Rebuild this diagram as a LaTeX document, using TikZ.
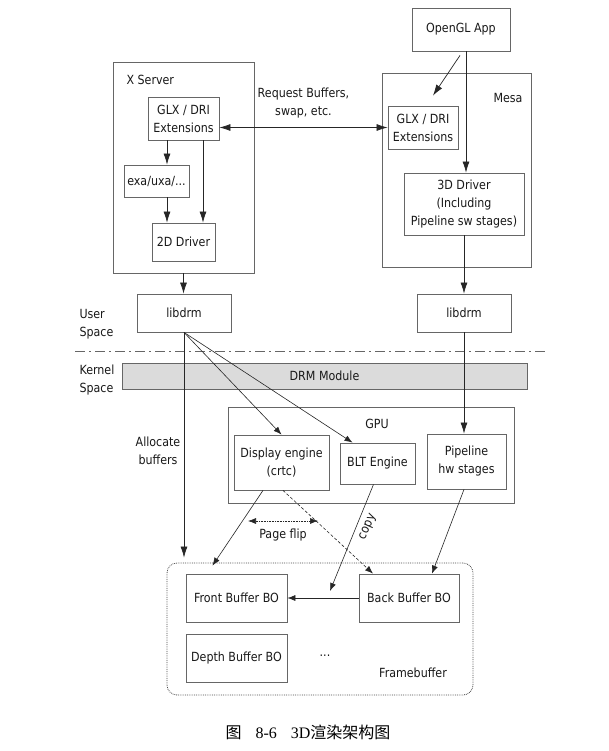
\documentclass[tikz,border=0pt]{standalone}
\usepackage{fontspec}
\setmainfont{DejaVu Sans}[FakeStretch=0.88]
\newfontfamily\cjk{Noto Sans CJK SC}
\newfontfamily\capfont{Liberation Serif}
\usetikzlibrary{arrows.meta, positioning, calc}

\begin{document}
\begin{tikzpicture}[x=1pt, y=-1pt,
  font=\fontsize{12.6}{18}\selectfont,
  box/.style={draw=black!60, line width=0.8pt, inner sep=0pt, align=center, text=black!90},
  group/.style={draw=black!60, line width=0.8pt, inner sep=0pt},
  arr/.style={draw=black!85, line width=0.7pt, -{Latex[length=11pt,width=7pt]}},
  thinarr/.style={draw=black!85, line width=0.6pt, -{Latex[length=8pt,width=6pt]}},
  lbl/.style={text=black!90, align=center}]
  \fill[white] (0,0) rectangle (609,751);
  \useasboundingbox (0,0) rectangle (609,751);

  % user space: X server and Mesa
  \node[group, minimum width=141pt, minimum height=211pt] (xserver) at (183.5,167.5) {};
  \node[group, minimum width=149pt, minimum height=194pt] (mesa) at (456.5,170) {};
  \node[lbl, anchor=west] (xserverlbl) at (123,80) {X Server};
  \node[lbl] (mesalbl) at (508,98) {Mesa};

  \node[box, minimum width=98pt, minimum height=43pt] (app) at (461,29.5) {OpenGL App};
  \node[box, minimum width=71pt, minimum height=43pt] (xglx) at (183.5,118.5) {GLX / DRI\\Extensions};
  \node[box, minimum width=65pt, minimum height=32pt] (exa) at (156.5,181) {exa/uxa/...};
  \node[box, minimum width=63pt, minimum height=38pt] (drv2d) at (183.5,242) {2D Driver};
  \node[box, minimum width=70pt, minimum height=43pt] (mglx) at (423,127.5) {GLX / DRI\\Extensions};
  \node[box, minimum width=120pt, minimum height=62pt] (drv3d) at (464,204) {3D Driver\\(Including\\Pipeline sw stages)};
  \node[box, minimum width=94pt, minimum height=38pt] (libl) at (184,313) {libdrm};
  \node[box, minimum width=94pt, minimum height=38pt] (libr) at (464,313) {libdrm};

  \node[lbl, align=left, anchor=west] (userlbl) at (76,324) {User\\Space};
  \draw[black!60, line width=0.8pt, dash pattern=on 10pt off 4pt on 2pt off 4pt] (75,351) -- (547,351);
  \node[lbl, align=left, anchor=west] (kernellbl) at (76,380) {Kernel\\Space};

  % kernel and GPU
  \node[box, fill=black!14, minimum width=405pt, minimum height=26pt] (drm) at (324.5,376) {DRM Module};
  \node[group, minimum width=286pt, minimum height=96pt] (gpu) at (371,455) {};
  \node[lbl] (gpulbl) at (377,424) {GPU};
  \node[box, minimum width=95pt, minimum height=55pt] (disp) at (281.5,462.5) {Display engine\\(crtc)};
  \node[box, minimum width=75pt, minimum height=41pt] (blt) at (377.5,463.5) {BLT Engine};
  \node[box, minimum width=79pt, minimum height=55pt] (pipe) at (466.5,461.5) {Pipeline\\hw stages};
  \node[lbl] (alloclbl) at (158,451) {Allocate\\buffers};

  % framebuffer
  \node[group, draw=black!70, densely dotted, rounded corners=10pt, minimum width=306pt, minimum height=132pt] (fb) at (320,629) {};
  \node[box, minimum width=101pt, minimum height=48pt] (front) at (236.5,598) {Front Buffer BO};
  \node[box, minimum width=100pt, minimum height=48pt] (back) at (409,598) {Back Buffer BO};
  \node[box, minimum width=101pt, minimum height=48pt] (depth) at (236.5,658) {Depth Buffer BO};
  \node[lbl] (dots) at (325,656) {...};
  \node[lbl] (fblbl) at (413,673) {Framebuffer};

  \coordinate (flipl) at (248,521);
  \coordinate (flipr) at (318,521);
  \coordinate (copyend) at (330,591);

  % connectors
  \draw[arr] ([xshift=-16.5pt]xglx.south) -- ([xshift=-16.5pt]xglx.south |- exa.north);
  \draw[arr] ([xshift=19.5pt]xglx.south) -- ([xshift=19.5pt]xglx.south |- drv2d.north);
  \draw[arr] ([xshift=10.5pt]exa.south) -- ([xshift=10.5pt]exa.south |- drv2d.north);
  \draw[arr, {Latex[length=11pt,width=7pt]}-{Latex[length=11pt,width=7pt]}] (xglx.east |- mglx.west) -- (mglx.west)
    node[lbl, midway, above=6pt] (reqlbl) {Request Buffers,\\swap, etc.};
  \draw[arr] ([xshift=-1pt,yshift=-4pt]app.south) -- ([xshift=10pt,yshift=10pt]mglx.north);
  \draw[arr] ([xshift=5pt]app.south) -- ([xshift=5pt]app.south |- drv3d.north);
  \draw[arr] (xserver.south) -- (xserver.south |- libl.north);
  \draw[arr] (drv3d.south) -- (drv3d.south |- libr.north);
  \draw[arr] (libr.south) -- (libr.south |- pipe.north);
  \draw[arr] (libl.south) -- ([yshift=5pt]fb.north -| libl.south);
  \draw[thinarr] (libl.south) -- (disp.north);
  \draw[thinarr] (libl.south) -- ([xshift=-25pt]blt.north);
  \draw[thinarr] ([xshift=-18.5pt]disp.south) -- ([xshift=-24pt,yshift=8pt]front.north);
  \draw[thinarr, densely dashed] ([xshift=1.5pt]disp.south) -- ([xshift=-36pt]back.north);
  \draw[thinarr, densely dotted, {Latex[length=8pt,width=6pt]}-{Latex[length=8pt,width=6pt]}] (flipl) -- (flipr)
    node[lbl, midway, below=4pt] (fliplbl) {Page flip};
  \draw[thinarr] ([xshift=-4pt]blt.south) -- (copyend);
  \node[lbl, rotate=66] (copylbl) at (368,527) {copy};
  \draw[thinarr] (back.west) -- (front.east);
  \draw[thinarr] ([xshift=-2.5pt]pipe.south) -- ([xshift=23pt]back.north);

  \node[font=\fontsize{16}{18}\selectfont] (caption) at (308,732)
    {{\cjk 图}\hspace{14pt}{\capfont 8-6}\hspace{14pt}{\capfont 3D}{\cjk 渲染架构图}};
\end{tikzpicture}
\end{document}
